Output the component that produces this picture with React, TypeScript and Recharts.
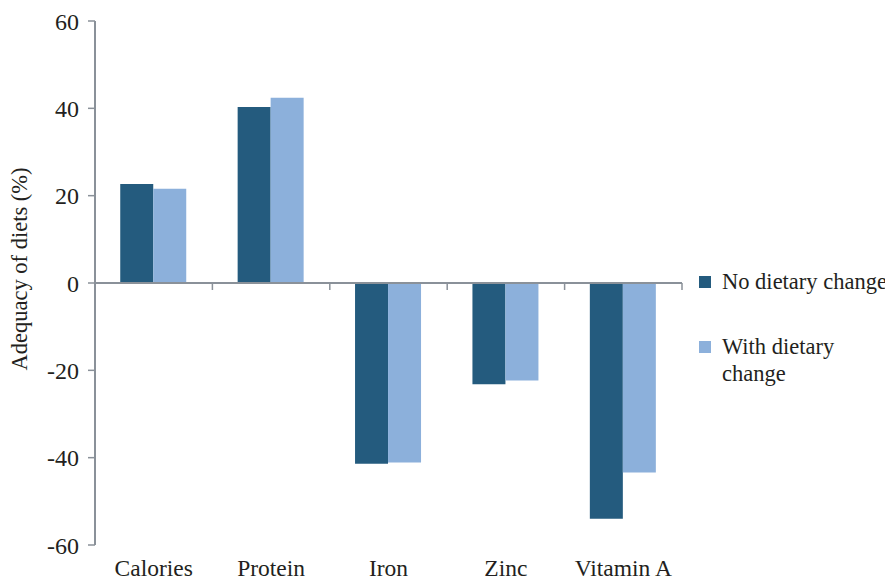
import React from "react";
import { BarChart, Bar, XAxis, YAxis, ReferenceLine } from "recharts";

const NUTRIENTS = ["Calories", "Protein", "Iron", "Zinc", "Vitamin A"];
const NO_CHANGE = [22.7, 40.3, -41.4, -23.2, -54.0];
const WITH_CHANGE = [21.6, 42.4, -41.1, -22.3, -43.4];
const Y_TICKS = [-60, -40, -20, 0, 20, 40, 60];

const DARK = "#245b7e";
const LIGHT = "#8cb0db";
const AXIS = "#8a9199";
const INK = "#231f20";
const FONT = "'Liberation Serif', 'Times New Roman', serif";

const data = NUTRIENTS.map((name, i) => ({
  name,
  noChange: NO_CHANGE[i],
  withChange: WITH_CHANGE[i],
}));

// little ticks hanging under the zero line at category boundaries
const boundaryTicks: { x: string; position: "start" | "end" }[] = [
  { x: "Protein", position: "start" },
  { x: "Iron", position: "start" },
  { x: "Zinc", position: "start" },
  { x: "Vitamin A", position: "start" },
  { x: "Vitamin A", position: "end" },
];

const series = [
  { name: "No dietary change", color: DARK },
  { name: "With dietary change", color: LIGHT },
];

export default function App() {
  return (
    <div style={{ position: "relative", width: 885, height: 573 }}>
      <BarChart
        width={885}
        height={573}
        data={data}
        margin={{ top: 13, right: 211, bottom: 0, left: 0 }}
        barCategoryGap="21.5%"
        barGap={0}
      >
        <XAxis
          dataKey="name"
          axisLine={false}
          tickLine={false}
          tickSize={0}
          tickMargin={14}
          height={36}
          interval={0}
          tick={{ fill: INK, fontSize: 23.5, fontFamily: FONT }}
        />
        <YAxis
          domain={[-60, 60]}
          ticks={Y_TICKS}
          width={87}
          axisLine={{ stroke: AXIS, strokeWidth: 2 }}
          tickLine={{ stroke: AXIS, strokeWidth: 1.5 }}
          tickSize={7}
          tickMargin={9}
          tick={{ fill: INK, fontSize: 24, fontFamily: FONT }}
          label={{
            value: "Adequacy of diets (%)",
            angle: -90,
            position: "insideLeft",
            dx: 6,
            dy: -14,
            style: { fill: INK, fontSize: 22.5, fontFamily: FONT, textAnchor: "middle" },
          }}
        />
        <Bar dataKey="noChange" name="No dietary change" fill={DARK} isAnimationActive={false} />
        <Bar dataKey="withChange" name="With dietary change" fill={LIGHT} isAnimationActive={false} />
        <ReferenceLine y={0} stroke={AXIS} strokeWidth={2} />
        {boundaryTicks.map((t, i) => (
          <ReferenceLine
            key={i}
            position={t.position}
            segment={[
              { x: t.x, y: 0 },
              { x: t.x, y: -1.6 },
            ]}
            stroke={AXIS}
            strokeWidth={1.5}
          />
        ))}
      </BarChart>

      {/* legend, right of the plot */}
      <div
        style={{
          position: "absolute",
          left: 691,
          top: 260,
          fontFamily: FONT,
          fontSize: 22.5,
          color: INK,
          lineHeight: "27px",
        }}
      >
        {series.map((s, i) => (
          <div
            key={s.name}
            style={{ display: "flex", alignItems: "flex-start", marginTop: i === 0 ? 0 : 38 }}
          >
            <span
              style={{
                width: 12,
                height: 12,
                background: s.color,
                marginTop: 8,
                marginRight: 11,
                flexShrink: 0,
              }}
            />
            <span style={{ width: 172 }}>{s.name}</span>
          </div>
        ))}
      </div>
    </div>
  );
}
